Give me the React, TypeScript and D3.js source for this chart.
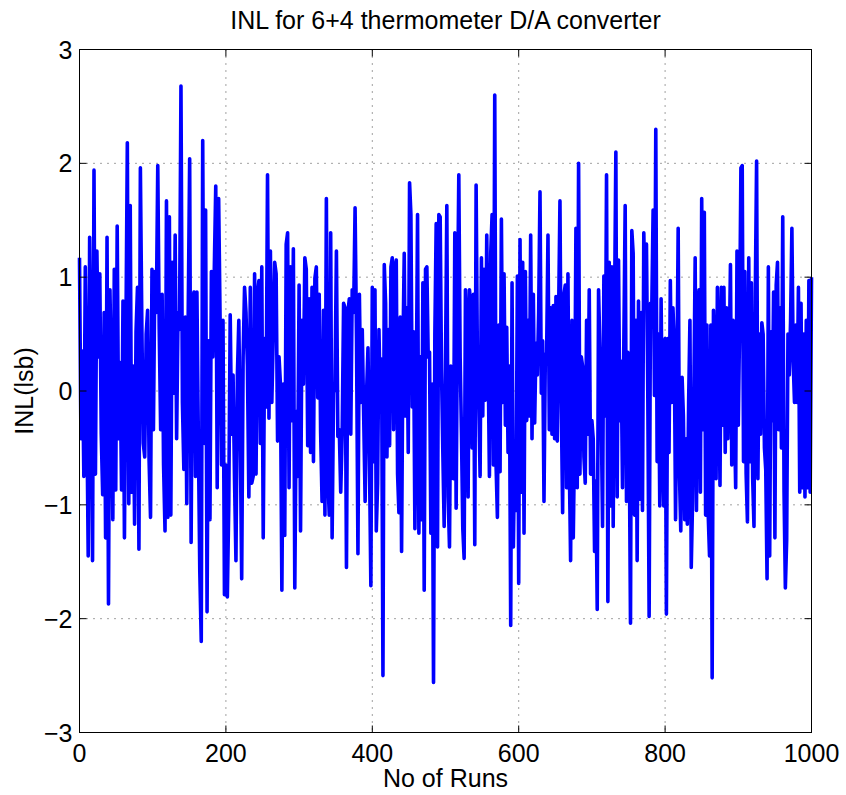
import { useEffect, useRef } from 'react';
import * as d3 from 'd3';

// INL values, one array per 200-run stretch
const RUNS_PER_SEGMENT = 200;

const inlRuns0to200 = [
  1.17, -0.42, 0.35, -0.75, 1.09, -0.1, -1.45, 1.35, 0.2, -1.49, 1.94, -0.73, 1.23, 0.3, 1.03, -0.38,
  -0.91, 0.69, -1.29, 1.35, -1.87, 0.89, 0.1, -1.13, 1.07, -0.87, 1.45, -0.42, 0.25, -0.87, 0.79, -1.29,
  0.46, 2.18, -0.99, 1.63, -0.89, 0.22, -1.17, 0.52, 0.91, -1.39, 1.96, 0.58, -0.46, -0.58, 0.5, 0.71,
  -0.6, -1.11, 1.07, -0.34, 1.05, 0.69, 1.98, 0.54, -0.34, 0.85, -0.65, -1.23, 1.67, -1.11, 1.53, -1.09,
  1.13, -0.02, 1.37, -0.42, 0.69, 0.54, 2.68, -0.1, -0.69, 0.65, -0.99, 0.67, 2.04, -1.33, 0.81, 0.87,
  -0.75, 0.87, -0.42, -1.59, -2.2, 2.2, -0.46, 1.59, -1.94, 0.44, -1.13, 1.05, 0.3, 1.07, 1.8, -0.85,
  1.69, 0.62, -0.65, 0.62, -1.79,
];

const inlRuns200to400 = [
  -0.65, -1.81, -0.99, 0.67, -0.38, 0.14, -0.77, -1.49, 0.14, 0.62, -0.38, -1.65, 0.3, 0.91, 0.69, 0.22,
  -0.93, 0.91, -0.81, -0.75, 1.03, -0.73, 0.85, 0.97, -0.46, 1.09, -1.29, 0.46, -0.14, 1.9, -0.24, 1.23,
  -0.1, 0.5, 1.13, 1.03, -0.44, 0.3, 0.06, -1.75, 0.06, -1.27, 1.29, 1.39, -0.85, 1.09, -0.26, 1.25,
  -1.73, -0.18, -0.75, 0.93, -1.23, 0.62, 0.06, 1.17, 1.07, -0.48, 0.81, -0.54, 0.91, -0.62, 0.99, 1.09,
  -0.06, 0.85, -0.36, -0.97, 0.71, -1.09, 1.69, -0.73, -1.09, 1.39, -1.29, -0.02, 0.06, 1.23, -0.4, -0.34,
  -0.89, -0.38, 0.77, 0.73, -1.55, 0.69, 0.81, -0.38, 0.89, 0.69, 1.61, 0.46, -1.43, 0.85, -0.1, 0.54,
  -0.22, -0.97, -0.02, 0.38, -0.58, -1.71,
];

const inlRuns400to600 = [
  0.91, -0.62, 0.89, -1.23, -0.81, 0.54, -0.14, 0.28, -2.5, 1.11, 0.77, -0.58, 0.54, -0.48, 1.09, 1.17,
  -0.34, 1.09, 1.15, -0.73, -1.07, 0.65, -1.41, 0.34, 1.21, -0.22, 0.73, -0.54, 1.83, 1.55, -0.14, 0.52,
  -1.21, -0.06, 1.55, -1.25, 0.3, -1.13, 0.95, -1.75, 1.07, 1.09, 0.3, 0.34, -1.25, 0.06, -2.56, 0.5,
  1.47, -1.37, 1.55, 1.53, 0.18, -0.54, -1.19, 0.22, 1.63, -0.93, -1.37, 0.22, -0.14, -0.77, 1.39, -1.03,
  0.69, 1.9, 0.3, -0.38, -1.21, -1.47, 0.89, 0.58, -0.93, 0.89, 0.77, -0.5, 0.85, -1.35, 1.81, 0.22,
  -0.1, -0.75, 1.17, -0.22, 1.07, -0.08, 1.37, 0.32, -0.75, 1.21, 1.55, -0.65, 2.6, -0.65, -1.11, 0.58,
  -0.71, 1.51, -0.1, 1.03, -0.3, 0.56, -0.54, 0.22, -2.06, 0.95, -1.37, -0.5, -1.05, 1.01,
];

const inlRuns600to800 = [
  -1.69, 1.33, -0.89, 1.13, -1.25, 1.05, -0.26, 0.62, -0.22, 1.37, -0.42, 0.85, -0.28, 0.42, 0.14, 0.69,
  1.75, -0.02, 0.44, -0.97, 0.3, 0.34, 1.37, -0.34, 0.73, -0.38, 0.75, -0.42, 0.83, -0.44, 0.69, 1.67,
  -0.1, -1.07, 0.85, 0.93, -0.85, 1.03, -0.62, -1.49, 0.62, -1.29, -0.42, 1.43, -0.85, 2.0, -0.73, 0.3,
  0.22, -0.58, -0.81, 0.62, -0.38, 0.89, -0.73, -0.26, -0.42, -1.41, -0.79, -1.92, 0.89, 0.38, -0.18, -1.19,
  1.01, -0.22, 1.9, -1.85, 1.13, -1.01, 1.09, -1.19, 0.73, 2.1, -0.93, 1.15, -0.26, 0.26, -0.85, 0.42,
  1.63, -0.97, 0.34, -0.34, -2.04, 1.41, 1.21, -1.09, 0.62, -1.49, 0.79, -0.95, 0.69, -1.05, 1.39, 0.75,
  1.29, -0.02, -1.98, 0.77, 0.73, 1.59, -0.04, 2.3, -0.62, 0.5, -1.01, 0.81, -0.46, -1.01,
];

const inlRuns800to1000 = [
  0.46, -1.96, 0.46, -0.54, 0.97, -0.1, 0.73, 0.42, -1.13, 0.06, 1.43, -0.73, -1.23, 0.12, -0.22, -1.13,
  -0.42, -1.17, -0.1, 0.62, -1.55, -0.97, -0.02, 1.17, -1.05, 0.73, 0.89, -0.89, 1.69, -0.34, 1.57, -1.09,
  0.58, -1.09, -1.45, 0.58, -2.52, 0.71, 0.22, -0.77, 0.91, 0.26, -0.83, 0.91, -0.3, 0.91, -0.54, 0.73,
  -0.42, 0.26, 1.11, -0.65, 0.62, -0.18, -0.85, 1.23, -0.3, 0.58, 1.96, 1.98, -0.62, 1.05, -0.73, -1.15,
  1.17, -0.62, 0.95, -0.77, -1.19, 0.85, 2.02, -0.77, 0.5, -0.38, 0.6, 0.5, -0.5, -0.69, -1.65, 1.09,
  -1.45, 0.52, -0.26, 0.87, -1.29, 0.93, 1.13, -0.34, 0.73, -0.5, 1.53, -0.89, -1.73, -1.31, 0.5, 0.14,
  0.62, 1.43, 0.26, -0.1, 0.58, -0.1, 0.91, -0.89, 0.77, -0.85, 0.5, -0.93, 0.62, -0.85, 0.97, -0.89, 1.0,
];

const inlSegments = [inlRuns0to200, inlRuns200to400, inlRuns400to600, inlRuns600to800, inlRuns800to1000];

const xTicks = [0, 200, 400, 600, 800, 1000];
const yTicks = [-3, -2, -1, 0, 1, 2, 3];

const FONT = '"Liberation Sans", Arial, Helvetica, sans-serif';

export default function App() {
  const svgRef = useRef<SVGSVGElement>(null);

  useEffect(() => {
    const width = 846;
    const height = 795;
    const margin = { top: 49.5, right: 34.5, bottom: 62.5, left: 79.5 };
    const innerWidth = width - margin.left - margin.right;
    const innerHeight = height - margin.top - margin.bottom;

    const svg = d3.select(svgRef.current);
    svg.selectAll('*').remove();

    // flatten the stretches into (run, inl) pairs; last stretch ends exactly at 1000
    const points = inlSegments.flatMap((vals, s) => {
      const isLast = s === inlSegments.length - 1;
      const step = RUNS_PER_SEGMENT / (isLast ? vals.length - 1 : vals.length);
      return vals.map((v, i) => ({ run: s * RUNS_PER_SEGMENT + i * step, inl: v }));
    });

    const x = d3.scaleLinear().domain([0, 1000]).range([0, innerWidth]);
    const y = d3.scaleLinear().domain([-3, 3]).range([innerHeight, 0]);

    svg.append('rect').attr('width', width).attr('height', height).attr('fill', '#fff');

    const g = svg.append('g').attr('transform', `translate(${margin.left},${margin.top})`);

    // dotted grid
    g.selectAll('.gx')
      .data(xTicks.slice(1, -1))
      .enter()
      .append('line')
      .attr('x1', d => x(d))
      .attr('x2', d => x(d))
      .attr('y1', 0)
      .attr('y2', innerHeight)
      .attr('stroke', '#444')
      .attr('stroke-width', 1)
      .attr('stroke-dasharray', '1,6');

    g.selectAll('.gy')
      .data(yTicks.slice(1, -1))
      .enter()
      .append('line')
      .attr('x1', 0)
      .attr('x2', innerWidth)
      .attr('y1', d => y(d))
      .attr('y2', d => y(d))
      .attr('stroke', '#444')
      .attr('stroke-width', 1)
      .attr('stroke-dasharray', '1,6');

    // the INL trace
    const line = d3.line<{ run: number; inl: number }>()
      .x(d => x(d.run))
      .y(d => y(d.inl));

    g.append('path')
      .datum(points)
      .attr('fill', 'none')
      .attr('stroke', '#0000ff')
      .attr('stroke-width', 3.6)
      .attr('stroke-linejoin', 'round')
      .attr('d', line);

    // box
    g.append('rect')
      .attr('width', innerWidth)
      .attr('height', innerHeight)
      .attr('fill', 'none')
      .attr('stroke', '#000')
      .attr('stroke-width', 1);

    // inward ticks on all four sides
    const tickLen = 7;
    xTicks.forEach(t => {
      g.append('line').attr('x1', x(t)).attr('x2', x(t)).attr('y1', innerHeight).attr('y2', innerHeight - tickLen).attr('stroke', '#000');
      g.append('line').attr('x1', x(t)).attr('x2', x(t)).attr('y1', 0).attr('y2', tickLen).attr('stroke', '#000');
    });
    yTicks.forEach(t => {
      g.append('line').attr('x1', 0).attr('x2', tickLen).attr('y1', y(t)).attr('y2', y(t)).attr('stroke', '#000');
      g.append('line').attr('x1', innerWidth).attr('x2', innerWidth - tickLen).attr('y1', y(t)).attr('y2', y(t)).attr('stroke', '#000');
    });

    // tick labels
    g.selectAll('.xl')
      .data(xTicks)
      .enter()
      .append('text')
      .attr('x', d => x(d))
      .attr('y', innerHeight + 29)
      .attr('text-anchor', 'middle')
      .style('font-family', FONT)
      .style('font-size', '25px')
      .style('fill', '#000')
      .text(d => d);

    g.selectAll('.yl')
      .data(yTicks)
      .enter()
      .append('text')
      .attr('x', -7)
      .attr('y', d => y(d))
      .attr('dy', '0.36em')
      .attr('text-anchor', 'end')
      .style('font-family', FONT)
      .style('font-size', '25px')
      .style('fill', '#000')
      .text(d => (d < 0 ? `\u2212${Math.abs(d)}` : `${d}`));

    // title and axis labels
    svg.append('text')
      .attr('x', margin.left + innerWidth / 2)
      .attr('y', 29)
      .attr('text-anchor', 'middle')
      .style('font-family', FONT)
      .style('font-size', '25px')
      .style('fill', '#000')
      .text('INL for 6+4 thermometer D/A converter');

    svg.append('text')
      .attr('x', margin.left + innerWidth / 2)
      .attr('y', 787)
      .attr('text-anchor', 'middle')
      .style('font-family', FONT)
      .style('font-size', '25px')
      .style('fill', '#000')
      .text('No of Runs');

    svg.append('text')
      .attr('transform', `translate(32.5,${margin.top + innerHeight / 2}) rotate(-90)`)
      .attr('text-anchor', 'middle')
      .style('font-family', FONT)
      .style('font-size', '25px')
      .style('fill', '#000')
      .text('INL(lsb)');
  }, []);

  return (
    <svg
      ref={svgRef}
      width={846}
      height={795}
      style={{ position: 'absolute', left: 0, top: 0, display: 'block' }}
    />
  );
}
